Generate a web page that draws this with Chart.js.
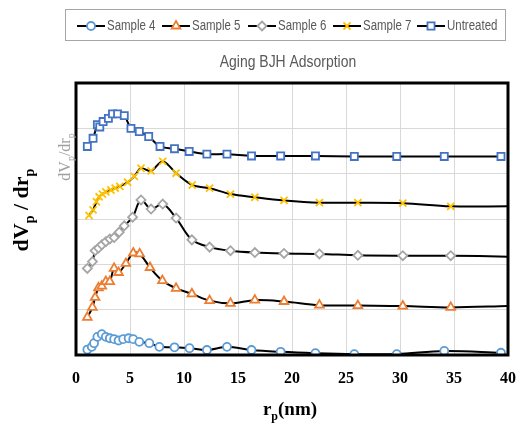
<!DOCTYPE html>
<html>
<head>
<meta charset="utf-8">
<script src="https://cdn.jsdelivr.net/npm/chart.js@4.4.1/dist/chart.umd.min.js"></script>
<style>
  html, body { margin: 0; padding: 0; background: #ffffff; }
  #wrap { width: 520px; height: 424px; }
</style>
</head>
<body>
<div id="wrap"><canvas id="bjh-chart" width="520" height="424"></canvas></div>
<script>
const x_ticks = [0, 5, 10, 15, 20, 25, 30, 35, 40];
const series_names = ["Sample 4", "Sample 5", "Sample 6", "Sample 7", "Untreated"];

const sample4_x = [1.05, 1.46, 1.67, 1.98, 2.39, 2.76, 3.13, 3.53, 3.94, 4.37, 4.87, 5.3, 5.86, 6.79, 7.72, 9.12, 10.51, 12.12, 13.98, 16.25, 18.95, 22.17, 25.77, 29.7, 34.1, 39.35];
const sample4_y = [0.12, 0.18, 0.26, 0.4, 0.46, 0.4, 0.37, 0.35, 0.32, 0.35, 0.37, 0.35, 0.29, 0.26, 0.18, 0.17, 0.15, 0.11, 0.18, 0.11, 0.07, 0.04, 0.02, 0.02, 0.09, 0.05];

const sample5_x = [1.05, 1.52, 1.77, 2.08, 2.39, 2.76, 3.13, 3.53, 3.94, 4.62, 5.3, 5.9, 6.85, 8.0, 9.27, 10.73, 12.37, 14.3, 16.56, 19.26, 22.54, 26.1, 30.26, 34.7, 40];
const sample5_y = [0.83, 1.05, 1.27, 1.48, 1.52, 1.62, 1.62, 1.91, 1.82, 2.02, 2.25, 2.23, 1.93, 1.64, 1.47, 1.35, 1.2, 1.14, 1.21, 1.18, 1.1, 1.09, 1.08, 1.05, 1.08];

const sample6_x = [1.05, 1.52, 1.77, 2.08, 2.39, 2.76, 3.13, 3.53, 4.0, 4.47, 5.24, 6.02, 6.95, 8.03, 9.27, 10.73, 12.37, 14.3, 16.56, 19.26, 22.54, 26.1, 30.26, 34.7, 40];
const sample6_y = [1.91, 2.06, 2.3, 2.36, 2.43, 2.5, 2.56, 2.59, 2.71, 2.85, 3.04, 3.42, 3.22, 3.33, 3.02, 2.54, 2.38, 2.3, 2.26, 2.24, 2.23, 2.2, 2.19, 2.19, 2.17];

const sample7_x = [1.21, 1.58, 1.89, 2.14, 2.45, 2.76, 3.23, 3.63, 4.06, 4.78, 5.4, 6.02, 6.95, 8.03, 9.27, 10.76, 12.37, 14.3, 16.56, 19.26, 22.54, 26.1, 30.26, 34.7, 40];
const sample7_y = [3.08, 3.2, 3.38, 3.49, 3.55, 3.6, 3.64, 3.68, 3.72, 3.81, 3.94, 4.12, 4.06, 4.27, 4.01, 3.75, 3.68, 3.55, 3.48, 3.41, 3.36, 3.36, 3.35, 3.28, 3.28];

const untreated_x = [1.05, 1.58, 1.98, 2.2, 2.51, 3.0, 3.38, 3.85, 4.47, 5.09, 5.86, 6.73, 7.78, 9.12, 10.48, 12.12, 13.98, 16.25, 18.95, 22.17, 25.77, 29.7, 34.1, 39.35];
const untreated_y = [4.6, 4.78, 5.08, 5.03, 5.15, 5.22, 5.32, 5.32, 5.28, 5.0, 4.93, 4.82, 4.6, 4.55, 4.49, 4.43, 4.43, 4.39, 4.39, 4.39, 4.38, 4.38, 4.38, 4.38];

const serif = "'Liberation Serif', 'DejaVu Serif', serif";
const sans = "'Liberation Sans', Arial, sans-serif";

function toPoints(xs, ys) {
  return xs.map((x, i) => ({ x: x, y: ys[i] }));
}

// the line runs on to the right border on some series, no marker there
function radii(xs, r) {
  return xs.map((x) => (x >= 40 ? 0 : r));
}

function makeSet(label, xs, ys, color, style, r) {
  return {
    label: label,
    data: toPoints(xs, ys),
    borderColor: "#000000",
    borderWidth: 2,
    tension: 0.35,
    pointStyle: style,
    pointRadius: radii(xs, r),
    pointHoverRadius: radii(xs, r),
    pointBackgroundColor: "#ffffff",
    pointBorderColor: color,
    pointBorderWidth: 1.8,
    markerColor: color,
    markerRadius: r,
  };
}

const datasets = [
  makeSet(series_names[0], sample4_x, sample4_y, "#5B9BD5", "circle", 4),
  makeSet(series_names[1], sample5_x, sample5_y, "#ED7D31", "triangle", 5),
  makeSet(series_names[2], sample6_x, sample6_y, "#A5A5A5", "rectRot", 4.5),
  makeSet(series_names[3], sample7_x, sample7_y, "#FFC000", "crossRot", 5),
  makeSet(series_names[4], untreated_x, untreated_y, "#4472C4", "rect", 5),
];

// narrow text, like Calibri: squeeze a normal sans horizontally
function narrowText(ctx, text, x, y, size, align) {
  ctx.save();
  ctx.font = size + "px " + sans;
  ctx.textAlign = align;
  ctx.translate(x, y);
  ctx.scale(0.82, 1);
  ctx.fillText(text, 0, 0);
  ctx.restore();
}

// text with a subscript part
function subText(ctx, parts, x, y, size, weight) {
  const fontOf = (p) => weight + " " + (p.sub ? Math.round(size * 0.65) : size) + "px " + serif;
  let total = 0;
  parts.forEach((p) => {
    ctx.font = fontOf(p);
    total += ctx.measureText(p.t).width;
  });
  let cx = x - total / 2;
  ctx.textAlign = "left";
  parts.forEach((p) => {
    ctx.font = fontOf(p);
    ctx.fillText(p.t, cx, p.sub ? y + size * 0.25 : y);
    cx += ctx.measureText(p.t).width;
  });
}

const decorPlugin = {
  id: "decor",
  afterDraw(chart) {
    const ctx = chart.ctx;
    const a = chart.chartArea;
    ctx.save();

    // plot frame
    ctx.strokeStyle = "#000000";
    ctx.lineWidth = 3;
    ctx.strokeRect(a.left, a.top, a.right - a.left, a.bottom - a.top);

    // legend box
    ctx.strokeStyle = "#a6a6a6";
    ctx.lineWidth = 1;
    ctx.strokeRect(65.5, 9.5, 440, 31);
    const legendX = [77, 162, 248, 333, 417];
    const ly = 26;
    ctx.textBaseline = "middle";
    chart.data.datasets.forEach((ds, i) => {
      const sx = legendX[i];
      ctx.strokeStyle = "#000000";
      ctx.lineWidth = 2;
      ctx.beginPath();
      ctx.moveTo(sx, ly);
      ctx.lineTo(sx + 28, ly);
      ctx.stroke();
      ctx.fillStyle = "#ffffff";
      ctx.strokeStyle = ds.markerColor;
      ctx.lineWidth = 1.8;
      Chart.helpers.drawPoint(ctx, { pointStyle: ds.pointStyle, radius: ds.markerRadius, rotation: 0, borderWidth: 1.8 }, sx + 14, ly);
      ctx.fillStyle = "#595959";
      narrowText(ctx, ds.label, sx + 30, ly, 14, "left");
    });

    // title
    ctx.fillStyle = "#595959";
    narrowText(ctx, "Aging BJH Adsorption", 288, 62, 17, "center");

    // x axis title r_p(nm)
    ctx.fillStyle = "#000000";
    ctx.textBaseline = "alphabetic";
    subText(ctx, [{ t: "r" }, { t: "p", sub: true }, { t: "(nm)" }], 290, 415, 19, "bold");

    // outer y axis title dV_p / dr_p
    ctx.save();
    ctx.translate(28, 210);
    ctx.rotate(-Math.PI / 2);
    subText(ctx, [{ t: "dV" }, { t: "p", sub: true }, { t: " / dr" }, { t: "p", sub: true }], 0, 0, 22, "bold");
    ctx.restore();

    // leftover grey axis title next to the frame
    ctx.save();
    ctx.translate(70, 157);
    ctx.rotate(-Math.PI / 2);
    ctx.fillStyle = "#a0a0a0";
    subText(ctx, [{ t: "dV" }, { t: "p", sub: true }, { t: "/dr" }, { t: "p", sub: true }], 0, 0, 16, "normal");
    ctx.restore();

    ctx.restore();
  },
};

const ctx = document.getElementById("bjh-chart").getContext("2d");
const chart = new Chart(ctx, {
  type: "line",
  data: { datasets: datasets },
  options: {
    responsive: false,
    animation: false,
    layout: { padding: { left: 76, right: 12, top: 83, bottom: 24 } },
    plugins: {
      legend: { display: false },
      title: { display: false },
      tooltip: { enabled: false },
    },
    scales: {
      x: {
        type: "linear",
        min: x_ticks[0],
        max: x_ticks[x_ticks.length - 1],
        afterBuildTicks: (scale) => {
          scale.ticks = x_ticks.map((v) => ({ value: v }));
        },
        afterFit: (scale) => {
          scale.height = 45;
          scale.paddingLeft = 0;
          scale.paddingRight = 0;
        },
        grid: { color: "#d9d9d9", lineWidth: 1, drawTicks: false },
        border: { display: false },
        ticks: {
          color: "#000000",
          padding: 14,
          font: { family: serif, size: 16, weight: "bold" },
        },
      },
      y: {
        min: 0,
        max: 6,
        afterFit: (scale) => {
          scale.width = 0;
        },
        grid: { color: "#d9d9d9", lineWidth: 1, drawTicks: false },
        border: { display: false },
        ticks: { display: false, stepSize: 1 },
      },
    },
  },
  plugins: [decorPlugin],
});
</script>
</body>
</html>
